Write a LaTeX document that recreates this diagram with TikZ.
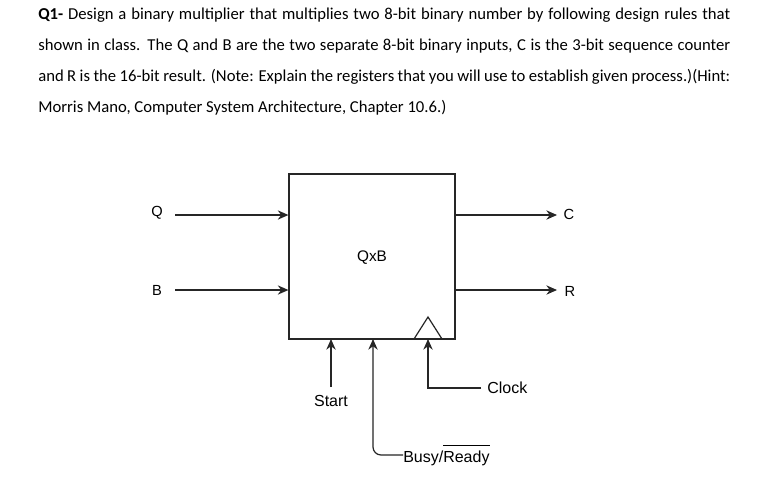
\documentclass[tikz,border=0pt]{standalone}
\usepackage{fontspec}
\setmainfont{Carlito}
\newfontfamily\arialf{Liberation Sans}
\usetikzlibrary{arrows.meta}
\newcommand{\jline}[1]{\makebox[519pt][s]{#1}}
\tikzset{
  para/.style={anchor=base west, inner sep=0pt, font=\fontsize{12.5pt}{14pt}\selectfont},
  lbl/.style={inner sep=0pt, font=\arialf\fontsize{11pt}{12pt}\selectfont},
  sig/.style={inner sep=0pt, font=\arialf\fontsize{12pt}{13pt}\selectfont},
  wire/.style={line width=0.9pt, draw=black!85},
  arr/.style={wire, -{Stealth[length=8pt,width=7pt]}},
  blk/.style={draw=black!85, line width=0.9pt, minimum width=166*0.75pt, minimum height=165*0.75pt, inner sep=0pt}
}
\begin{document}
\begin{tikzpicture}[x=0.75pt,y=-0.75pt]
\useasboundingbox (0,0) rectangle (770,480);
\fill[white] (0,0) rectangle (770,480);
% question text
\node[para] (t1) at (38,19) {\jline{\textbf{Q1-} Design a binary multiplier that multiplies two 8-bit binary number by following design rules that}};
\node[para] (t2) at (38,50) {\jline{shown in class. The Q and B are the two separate 8-bit binary inputs, C is the 3-bit sequence counter}};
\node[para] (t3) at (38,81) {\jline{and R is the 16-bit result. (Note: Explain the registers that you will use to establish given process.)(Hint:}};
\node[para] (t4) at (38,112) {Morris Mano, Computer System Architecture, Chapter 10.6.)};
% block
\node[blk] (box) at (372,256.5) {};
\node[lbl, font=\arialf\fontsize{11.5pt}{12pt}\selectfont] (qxb) at (372,258) {QxB};
% clock triangle
\coordinate (tl) at (414,339);
\coordinate (tt) at (428,317);
\coordinate (tr) at (442,339);
\draw[wire, line join=miter] (tl) -- (tt) -- (tr);
% inputs
\node[lbl] (q) at (157,213) {Q};
\node[lbl] (b) at (157,290) {B};
\coordinate (qs) at (175,215);
\coordinate (bs) at (175,290);
\draw[arr] (qs) -- (box.west |- qs);
\draw[arr] (bs) -- (box.west |- bs);
% outputs
\node[lbl] (c) at (569,214) {C};
\node[lbl] (r) at (570,291) {R};
\coordinate (ce) at (557,215);
\coordinate (re) at (557,290);
\draw[arr] (box.east |- ce) -- (ce);
\draw[arr] (box.east |- re) -- (re);
% bottom signals
\node[sig] (start) at (331,401) {Start};
\node[sig, anchor=west] (clock) at (487,388) {Clock};
\node[sig, anchor=west] (busy) at (403,455) {Busy/$\overline{\mbox{Ready}\rule{0pt}{12pt}}$};
\coordinate (startin) at (331,339);
\coordinate (busyin) at (373,339);
\coordinate (clkin) at (428,339);
\coordinate (ss) at (331,387);
\coordinate (be) at (403,455);
\coordinate (ce2) at (481,388);
\draw[arr] (ss) -- (startin);
\draw[arr, rounded corners=6pt] (be) -- (busyin |- be) -- (busyin);
\draw[arr] (ce2) -- (clkin |- ce2) -- (clkin);
\end{tikzpicture}
\end{document}
